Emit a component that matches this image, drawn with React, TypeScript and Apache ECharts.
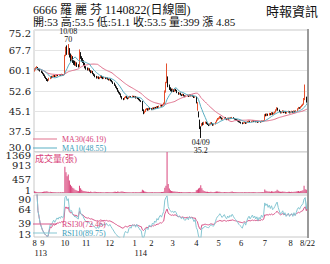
import React, { useEffect, useRef } from 'react';
import * as echarts from 'echarts';

const TITLE = '6666 羅 麗 芬 1140822(日線圖)';
const SUBTITLE = '開:53 高:53.5 低:51.1 收:53.5 量:399 漲 4.85';
const SOURCE = '時報資訊';
const VOLUME_NAME = '成交量(張)';
const MA30_TEXT = '46.19';
const MA10_TEXT = '48.55';
const RSI30_TEXT = '72.46';
const RSI10_TEXT = '89.75';
const HI_DATE = '10/08';
const LO_DATE = '04/09';
const MONTH_LABELS = ['8', '9', '10', '11', '12', '1', '2', '3', '4', '5', '6', '7', '8'];
const YEAR_MONTHS = [0, 5];
const YEAR_LABELS = ['113', '114'];
const LAST_LABEL = '8/22';
const PRICE_RANGE = [30, 75.2];
const PRICE_SPLITS = 6;
const VOL_RANGE = [1, 1369];
const VOL_SPLITS = 3;
const RSI_RANGE = [13, 90];
const RSI_SPLITS = 3;

// [open, close, low, high]
const bars2408 = [
  [60.0, 60.5, 59.8, 61.0], [60.5, 61.0, 60.3, 61.4], [61.0, 61.3, 60.8, 61.8], [61.3, 60.8, 60.5, 61.5],
  [60.8, 60.5, 60.2, 61.0], [60.5, 60.0, 59.8, 60.8], [60.0, 59.6, 59.3, 60.2],
];
const bars2409 = [
  [59.6, 59.0, 58.8, 59.8], [59.0, 58.5, 58.2, 59.2], [58.5, 57.8, 57.5, 58.7], [57.8, 57.2, 57.0, 58.0],
  [57.2, 56.6, 56.3, 57.4], [56.6, 56.5, 56.1, 57.0], [56.5, 57.2, 56.4, 57.5], [57.2, 57.9, 57.0, 58.1],
  [57.9, 57.6, 57.3, 58.2], [57.6, 58.0, 57.4, 58.3], [58.0, 58.3, 57.8, 58.6], [58.3, 57.9, 57.7, 58.5],
  [57.9, 58.2, 57.8, 58.4], [58.2, 58.5, 58.0, 58.8], [58.5, 58.3, 58.1, 58.7], [58.3, 58.6, 58.2, 58.9],
  [58.6, 58.4, 58.2, 58.8], [58.4, 58.7, 58.3, 59.0], [58.7, 58.5, 58.3, 58.9], [58.5, 58.6, 58.3, 58.8],
];
const bars2410 = [
  [58.6, 65.5, 58.5, 66.0], [66.5, 67.5, 65.5, 69.0], [68.0, 66.5, 66.0, 69.5], [67.0, 68.5, 66.0, 70.0],
  [68.0, 65.5, 65.0, 68.5], [65.5, 64.5, 63.5, 66.5], [64.5, 65.0, 63.8, 66.0], [65.0, 63.5, 63.0, 65.5],
  [63.5, 63.0, 62.3, 64.0], [63.0, 62.5, 62.0, 63.8], [62.5, 62.8, 61.8, 63.5], [62.8, 62.0, 61.5, 63.2],
  [62.0, 61.8, 61.3, 62.5], [61.8, 67.0, 61.5, 68.0], [66.5, 65.0, 64.5, 67.0], [65.0, 64.0, 63.5, 65.5],
  [64.0, 63.8, 63.0, 64.8], [63.5, 62.5, 62.0, 64.0], [62.5, 61.5, 61.0, 63.0],
];
const bars2411 = [
  [61.5, 61.0, 60.5, 61.8], [61.0, 60.5, 60.2, 61.3], [60.5, 60.8, 60.2, 61.2], [60.8, 60.0, 59.8, 61.0],
  [60.0, 59.5, 59.2, 60.3], [59.5, 59.8, 59.3, 60.2], [59.8, 59.0, 58.8, 60.0], [59.0, 58.5, 58.2, 59.2],
  [58.5, 58.0, 57.7, 58.8], [58.0, 57.5, 57.2, 58.2], [57.5, 57.8, 57.3, 58.0], [57.8, 57.2, 57.0, 58.0],
  [57.2, 57.6, 57.0, 57.8], [57.6, 58.2, 57.4, 58.5], [58.2, 57.5, 57.3, 58.3], [57.5, 57.3, 57.0, 57.8],
  [57.3, 57.6, 57.1, 57.9], [57.6, 57.2, 57.0, 57.8], [57.2, 57.5, 57.0, 57.7], [57.5, 57.0, 56.8, 57.6],
  [57.0, 56.8, 56.5, 57.2],
];
const bars2412 = [
  [56.8, 57.0, 56.5, 57.3], [57.0, 56.5, 56.2, 57.1], [56.5, 56.0, 55.8, 56.7], [56.0, 55.5, 55.2, 56.2],
  [55.5, 54.8, 54.5, 55.7], [54.8, 54.0, 53.8, 55.0], [54.0, 53.5, 53.2, 54.3], [53.5, 52.5, 52.3, 53.7],
  [52.5, 52.0, 51.7, 52.8], [52.0, 51.5, 51.2, 52.2], [51.5, 50.5, 50.2, 51.7], [50.5, 49.8, 49.5, 50.7],
  [49.8, 49.5, 49.2, 50.0], [49.5, 50.2, 49.4, 50.4], [50.2, 50.5, 50.0, 50.8], [50.5, 50.0, 49.8, 50.7],
  [50.0, 49.8, 49.5, 50.2], [49.8, 50.3, 49.7, 50.5], [50.3, 50.5, 50.1, 50.8], [50.5, 50.2, 50.0, 50.7],
  [50.2, 50.6, 50.1, 50.9], [50.6, 50.4, 50.2, 50.8],
];
const bars2501 = [
  [50.4, 50.5, 50.1, 50.8], [50.5, 50.0, 49.8, 50.7], [50.0, 50.3, 49.9, 50.5], [50.3, 49.8, 49.6, 50.4],
  [49.8, 49.5, 49.2, 50.0], [49.5, 49.0, 48.8, 49.7], [49.0, 48.8, 48.5, 49.2], [48.8, 45.5, 45.2, 48.9],
  [45.5, 44.5, 44.0, 45.8], [44.5, 45.0, 44.3, 45.3], [45.0, 45.8, 44.8, 46.0], [45.8, 46.0, 45.5, 46.3],
  [46.0, 45.5, 45.3, 46.2], [45.5, 46.2, 45.4, 46.4], [46.2, 46.0, 45.7, 46.5],
];
const bars2502 = [
  [46.0, 45.8, 45.5, 46.3], [45.8, 46.3, 45.6, 46.5], [46.3, 46.0, 45.8, 46.5], [46.0, 46.5, 45.9, 46.7],
  [46.5, 46.2, 46.0, 46.7], [46.2, 46.8, 46.1, 47.0], [46.8, 46.5, 46.3, 47.0], [46.5, 47.0, 46.4, 47.2],
  [47.0, 47.3, 46.8, 47.5], [47.3, 47.0, 46.8, 47.5], [47.0, 47.5, 46.9, 47.8], [47.5, 48.0, 47.3, 48.3],
  [48.0, 52.5, 47.8, 52.8], [52.5, 55.0, 52.0, 56.0], [56.5, 57.5, 55.5, 62.8], [57.0, 54.5, 54.0, 58.0],
  [54.5, 53.5, 53.0, 55.0], [53.5, 53.0, 52.5, 54.0], [53.0, 52.5, 52.2, 53.5],
];
const bars2503 = [
  [52.5, 53.0, 52.2, 53.5], [53.0, 52.5, 52.2, 53.3], [52.5, 53.2, 52.3, 53.5], [53.2, 52.8, 52.5, 53.4],
  [52.8, 52.0, 51.8, 53.0], [52.0, 51.5, 51.2, 52.2], [51.5, 51.8, 51.3, 52.0], [51.8, 51.2, 51.0, 52.0],
  [51.2, 51.0, 50.7, 51.4], [51.0, 51.4, 50.8, 51.6], [51.4, 50.8, 50.6, 51.5], [50.8, 50.5, 50.3, 51.0],
  [50.5, 50.8, 50.3, 51.0], [50.8, 51.0, 50.6, 51.3], [51.0, 50.6, 50.4, 51.2], [50.6, 51.2, 50.5, 51.4],
  [51.2, 50.8, 50.6, 51.3], [50.8, 51.0, 50.6, 51.2], [51.0, 50.7, 50.5, 51.2], [50.7, 50.2, 50.0, 50.8],
  [50.2, 50.5, 50.0, 50.7],
];
const bars2504 = [
  [50.3, 48.5, 48.0, 50.5], [46.0, 47.5, 45.3, 48.5], [44.5, 43.0, 42.8, 45.0], [41.0, 38.7, 38.5, 42.0],
  [39.0, 37.0, 35.2, 39.5], [40.0, 40.7, 39.5, 40.7], [40.5, 40.2, 39.8, 41.0], [40.2, 40.8, 40.0, 41.2],
  [40.8, 41.0, 40.5, 41.3], [41.0, 40.5, 40.3, 41.2], [40.5, 40.2, 40.0, 40.8], [40.2, 40.0, 39.6, 40.4],
  [40.0, 40.4, 39.8, 40.6], [40.4, 40.8, 40.2, 41.0], [40.8, 40.5, 40.3, 41.0], [40.5, 40.0, 39.7, 40.7],
  [40.0, 40.3, 39.8, 40.5], [40.3, 41.0, 40.2, 41.2], [41.0, 41.8, 40.9, 42.0], [41.8, 42.3, 41.6, 42.6],
];
const bars2505 = [
  [42.3, 42.5, 42.0, 42.8], [42.5, 43.0, 42.3, 43.3], [43.0, 42.6, 42.4, 43.2], [42.6, 42.2, 42.0, 42.8],
  [42.2, 42.5, 42.0, 42.7], [42.5, 42.8, 42.3, 43.0], [42.8, 42.3, 42.1, 42.9], [42.3, 42.0, 41.8, 42.5],
  [42.0, 42.5, 41.9, 42.7], [42.5, 42.2, 42.0, 42.7], [42.2, 42.6, 42.1, 42.8], [42.6, 42.4, 42.2, 42.8],
  [42.4, 42.8, 42.3, 43.0], [42.8, 42.5, 42.3, 42.9], [42.5, 42.2, 42.0, 42.6], [42.2, 42.0, 41.8, 42.3],
  [42.0, 41.8, 41.6, 42.2], [41.8, 41.5, 41.3, 42.0], [41.5, 41.2, 41.0, 41.7], [41.2, 41.0, 40.8, 41.4],
];
const bars2506 = [
  [41.0, 40.8, 40.5, 41.2], [40.8, 40.5, 40.3, 41.0], [40.5, 40.8, 40.4, 41.0], [40.8, 41.0, 40.6, 41.2],
  [41.0, 40.6, 40.4, 41.1], [40.6, 41.0, 40.5, 41.2], [41.0, 41.3, 40.9, 41.5], [41.3, 41.5, 41.1, 41.7],
  [41.5, 41.2, 41.0, 41.6], [41.2, 41.4, 41.0, 41.6], [41.4, 41.6, 41.2, 41.8], [41.6, 41.3, 41.1, 41.7],
  [41.3, 41.5, 41.2, 41.7], [41.5, 41.2, 41.0, 41.6], [41.2, 41.4, 41.0, 41.6], [41.4, 41.0, 40.8, 41.5],
  [41.0, 41.3, 40.9, 41.5], [41.3, 41.1, 40.9, 41.4], [41.1, 41.5, 41.0, 41.7], [41.5, 41.3, 41.1, 41.6],
  [41.3, 41.6, 41.2, 41.8],
];
const bars2507 = [
  [41.6, 43.8, 41.5, 44.0], [43.8, 43.5, 43.2, 44.2], [43.5, 44.0, 43.3, 44.3], [44.0, 43.6, 43.4, 44.2],
  [43.6, 44.2, 43.5, 44.5], [44.2, 43.8, 43.6, 44.4], [43.8, 44.5, 43.7, 44.8], [44.5, 44.0, 43.8, 44.7],
  [44.0, 44.3, 43.9, 44.6], [44.3, 44.8, 44.2, 45.0], [44.8, 45.5, 44.6, 45.8], [45.5, 46.2, 45.3, 46.6],
  [46.2, 45.5, 45.3, 46.4], [45.5, 45.0, 44.8, 45.7], [45.0, 44.5, 44.3, 45.2], [44.5, 44.8, 44.3, 45.0],
  [44.8, 45.2, 44.6, 45.5], [45.2, 44.6, 44.4, 45.3], [44.6, 45.0, 44.5, 45.2], [45.0, 44.4, 44.2, 45.1],
  [44.4, 44.7, 44.2, 44.9], [44.7, 45.0, 44.5, 45.3], [45.0, 44.5, 44.3, 45.2],
];
const bars2508 = [
  [44.5, 44.8, 44.3, 45.0], [44.8, 45.0, 44.6, 45.3], [45.0, 44.6, 44.4, 45.2], [44.6, 45.2, 44.5, 45.4],
  [45.2, 44.8, 44.6, 45.3], [44.8, 45.3, 44.7, 45.5], [45.3, 46.0, 45.2, 46.2], [46.0, 46.4, 45.8, 46.7],
  [46.4, 46.2, 46.0, 46.6], [46.2, 46.8, 46.1, 47.0], [46.8, 47.2, 46.6, 47.5], [47.2, 47.6, 47.0, 47.9],
  [47.6, 49.5, 47.5, 50.0], [49.5, 50.5, 49.2, 55.0], [50.3, 48.65, 48.3, 50.5], [53.0, 53.5, 51.1, 53.5],
];

const vol2408 = [60, 45, 38, 30, 28, 25, 30];
const vol2409 = [35, 40, 55, 48, 62, 40, 30, 45, 38, 28, 25, 30, 22, 20, 25, 18, 22, 20, 25, 22];
const vol2410 = [874, 690, 560, 620, 420, 280, 230, 180, 150, 110, 90, 80, 70, 240, 160, 110, 80, 70, 60];
const vol2411 = [55, 45, 40, 38, 50, 35, 30, 40, 45, 35, 28, 30, 25, 38, 30, 22, 20, 25, 22, 28, 30];
const vol2412 = [25, 30, 28, 35, 40, 45, 38, 50, 42, 35, 48, 55, 40, 35, 30, 25, 22, 28, 25, 20, 22, 25];
const vol2501 = [20, 25, 22, 28, 30, 35, 40, 110, 85, 55, 45, 35, 30, 28, 25];
const vol2502 = [25, 22, 20, 25, 22, 28, 25, 30, 28, 32, 35, 40, 180, 240, 1369, 300, 150, 90, 70];
const vol2503 = [60, 50, 55, 45, 40, 38, 35, 30, 32, 28, 30, 25, 28, 30, 25, 22, 25, 20, 22, 28, 30];
const vol2504 = [90, 110, 150, 180, 260, 160, 90, 70, 55, 45, 40, 35, 38, 42, 35, 30, 32, 45, 55, 50];
const vol2505 = [40, 45, 35, 30, 28, 32, 30, 25, 28, 30, 35, 40, 55, 35, 30, 25, 28, 30, 25, 22];
const vol2506 = [22, 25, 20, 22, 25, 28, 30, 35, 25, 22, 28, 30, 25, 22, 20, 25, 22, 28, 30, 25, 28];
const vol2507 = [120, 80, 60, 50, 55, 45, 60, 50, 45, 55, 70, 110, 75, 55, 45, 40, 50, 45, 40, 35, 38, 42, 40];
const vol2508 = [35, 40, 38, 45, 40, 48, 60, 65, 50, 70, 80, 95, 240, 130, 110, 399];

const monthBars = [bars2408, bars2409, bars2410, bars2411, bars2412, bars2501, bars2502, bars2503, bars2504, bars2505, bars2506, bars2507, bars2508];
const monthVols = [vol2408, vol2409, vol2410, vol2411, vol2412, vol2501, vol2502, vol2503, vol2504, vol2505, vol2506, vol2507, vol2508];

const UP = '#e4502e';
const DOWN = '#111111';
const PINK = '#d8437a';
const TEAL = '#3c9db8';
const SERIF = "'Liberation Serif', 'Noto Sans CJK TC', serif";
const NUMFONT = "'DejaVu Serif', serif";

function movingAverage(values: number[], n: number) {
  return values.map((_, i) => {
    const from = Math.max(0, i - n + 1);
    let s = 0;
    for (let k = from; k <= i; k++) s += values[k];
    return +(s / (i - from + 1)).toFixed(2);
  });
}

function rsi(values: number[], n: number) {
  const out: (number | null)[] = [null];
  let ag = 0;
  let al = 0;
  for (let i = 1; i < values.length; i++) {
    const d = values[i] - values[i - 1];
    const k = Math.min(i, n);
    ag = (ag * (k - 1) + Math.max(d, 0)) / k;
    al = (al * (k - 1) + Math.max(-d, 0)) / k;
    out.push(ag + al === 0 ? 50 : +((100 * ag) / (ag + al)).toFixed(2));
  }
  return out;
}

function buildOption() {
  const ohlc = monthBars.flat();
  const vols = monthVols.flat();
  const closes = ohlc.map((b) => b[1]);
  const n = ohlc.length;
  const cats = ohlc.map((_, i) => String(i));
  const monthStart: number[] = [];
  let acc = 0;
  monthBars.forEach((m) => {
    monthStart.push(acc);
    acc += m.length;
  });
  const labelAt = new Map<number, string>();
  monthStart.forEach((s, k) => labelAt.set(s, MONTH_LABELS[k]));
  labelAt.set(n - 1, LAST_LABEL);
  const yearAt = new Map<number, string>();
  YEAR_MONTHS.forEach((mk, k) => yearAt.set(monthStart[mk], YEAR_LABELS[k]));

  let hiIdx = 0;
  let loIdx = 0;
  ohlc.forEach((b, i) => {
    if (b[3] > ohlc[hiIdx][3]) hiIdx = i;
    if (b[2] < ohlc[loIdx][2]) loIdx = i;
  });
  const hiVal = ohlc[hiIdx][3];
  const loVal = ohlc[loIdx][2];

  const ma30 = movingAverage(closes, 30);
  const ma10 = movingAverage(closes, 10);
  const rsi30 = rsi(closes, 30);
  const rsi10 = rsi(closes, 10);

  const gridCommon = { left: 34, width: 274, show: true, borderColor: '#c8c8c8', borderWidth: 1, backgroundColor: '#fff' };
  const hiddenX = (gi: number) => ({
    type: 'category', gridIndex: gi, data: cats, boundaryGap: true,
    axisLine: { show: false }, axisTick: { show: false }, axisLabel: { show: false }, splitLine: { show: false },
  });
  const numStyle = { fontSize: 10, lineHeight: 6, fontFamily: NUMFONT, color: '#222' };
  const yLabel = (fmt: (v: number) => string, range: number[], padTop: number, padBottom: number) => ({
    show: true, ...numStyle, margin: 3,
    formatter: (v: number) => {
      const t = fmt(v);
      if (Math.abs(v - range[1]) < 1e-6 && padTop) return `{hi|${t}}`;
      if (Math.abs(v - range[0]) < 1e-6 && padBottom) return `{lo|${t}}`;
      return t;
    },
    rich: {
      hi: { ...numStyle, padding: [padTop, 0, 0, 0] },
      lo: { ...numStyle, padding: [0, 0, padBottom, 0] },
    },
    showMinLabel: true, showMaxLabel: true, hideOverlap: false,
    verticalAlignMaxLabel: 'top', verticalAlignMinLabel: 'bottom',
  });
  const legendText = { fontSize: 8, lineHeight: 8, fontFamily: SERIF };
  const lineLegend = (name: string, text: string, top: number, color: string) => ({
    data: [name], left: 33, top, orient: 'vertical', itemWidth: 24, itemHeight: 1, icon: 'rect',
    selectedMode: false, padding: 0, formatter: () => `${name}(${text})`,
    textStyle: { ...legendText, color },
  });

  return {
    animation: false,
    backgroundColor: '#ffffff',
    legend: [
      lineLegend('MA30', MA30_TEXT, 135, PINK),
      lineLegend('MA10', MA10_TEXT, 144, TEAL),
      {
        data: [VOLUME_NAME], left: 30, top: 154, itemWidth: 0, itemHeight: 0, selectedMode: false, padding: 0,
        textStyle: { fontSize: 9, fontFamily: SERIF, color: PINK },
      },
      lineLegend('RSI30', RSI30_TEXT, 220, PINK),
      lineLegend('RSI10', RSI10_TEXT, 229, TEAL),
    ],
    grid: [
      { ...gridCommon, top: 30, height: 122 },
      { ...gridCommon, top: 152, height: 41 },
      { ...gridCommon, top: 195, height: 42 },
    ],
    xAxis: [
      hiddenX(0),
      hiddenX(1),
      {
        type: 'category', gridIndex: 2, data: cats, boundaryGap: true,
        axisLine: { show: false }, axisTick: { show: false }, splitLine: { show: false },
        axisLabel: {
          show: true, interval: (i: number) => labelAt.has(i), formatter: (_v: string, i: number) => labelAt.get(i) ?? '',
          fontSize: 8.5, fontFamily: SERIF, color: '#111', margin: 2, hideOverlap: false,
        },
      },
      {
        type: 'category', gridIndex: 2, data: cats, boundaryGap: true, position: 'bottom', offset: 10,
        axisLine: { show: false }, axisTick: { show: false }, splitLine: { show: false },
        axisLabel: {
          show: true, interval: (i: number) => yearAt.has(i), formatter: (_v: string, i: number) => yearAt.get(i) ?? '',
          fontSize: 8.5, fontFamily: SERIF, color: '#111', margin: 2, align: 'left', hideOverlap: false,
        },
      },
    ],
    yAxis: [
      {
        type: 'value', gridIndex: 0, min: PRICE_RANGE[0], max: PRICE_RANGE[1],
        interval: (PRICE_RANGE[1] - PRICE_RANGE[0]) / PRICE_SPLITS,
        axisLine: { show: false }, axisTick: { show: false },
        splitLine: { show: true, lineStyle: { color: '#e4e4e4', width: 1 } },
        axisLabel: yLabel((v: number) => v.toFixed(1), PRICE_RANGE, 0, 4),
      },
      {
        type: 'value', gridIndex: 1, min: VOL_RANGE[0], max: VOL_RANGE[1],
        interval: (VOL_RANGE[1] - VOL_RANGE[0]) / VOL_SPLITS,
        axisLine: { show: false }, axisTick: { show: false }, splitLine: { show: false },
        axisLabel: yLabel((v: number) => String(Math.round(v)), VOL_RANGE, 0, 0),
      },
      {
        type: 'value', gridIndex: 2, min: RSI_RANGE[0], max: RSI_RANGE[1],
        interval: (RSI_RANGE[1] - RSI_RANGE[0]) / RSI_SPLITS,
        axisLine: { show: false }, axisTick: { show: false }, splitLine: { show: false },
        axisLabel: yLabel((v: number) => String(Math.round(v)), RSI_RANGE, 2, 0),
      },
    ],
    series: [
      {
        type: 'candlestick', name: 'K', xAxisIndex: 0, yAxisIndex: 0, data: ohlc, barWidth: 1,
        itemStyle: { color: UP, color0: DOWN, borderColor: UP, borderColor0: DOWN, borderWidth: 1 },
        markPoint: {
          symbol: 'circle', symbolSize: 0, silent: true,
          itemStyle: { color: 'transparent' },
          label: { show: true, color: '#111', fontSize: 8, fontFamily: SERIF, lineHeight: 8 },
          data: [
            { coord: [hiIdx, hiVal], value: hiVal, label: { position: 'top', distance: 1, formatter: `${HI_DATE}\n${hiVal}` } },
            { coord: [loIdx, loVal], value: loVal, label: { position: 'bottom', distance: 1, formatter: `${LO_DATE}\n${loVal}` } },
          ],
        },
      },
      {
        type: 'line', name: 'MA30', xAxisIndex: 0, yAxisIndex: 0, data: ma30, showSymbol: false, symbol: 'none',
        lineStyle: { width: 1, color: '#e0718d' }, itemStyle: { color: '#e0718d' },
      },
      {
        type: 'line', name: 'MA10', xAxisIndex: 0, yAxisIndex: 0, data: ma10, showSymbol: false, symbol: 'none',
        lineStyle: { width: 1, color: '#58aec2' }, itemStyle: { color: '#58aec2' },
      },
      {
        type: 'bar', name: VOLUME_NAME, xAxisIndex: 1, yAxisIndex: 1, data: vols, barWidth: 1,
        itemStyle: { color: '#d9467c' },
      },
      {
        type: 'line', name: 'RSI30', xAxisIndex: 2, yAxisIndex: 2, data: rsi30, showSymbol: false, symbol: 'none',
        lineStyle: { width: 1, color: '#d8578a' }, itemStyle: { color: '#d8578a' },
      },
      {
        type: 'line', name: 'RSI10', xAxisIndex: 2, yAxisIndex: 2, data: rsi10, showSymbol: false, symbol: 'none',
        lineStyle: { width: 1, color: '#86c6d2' }, itemStyle: { color: '#86c6d2' },
      },
    ],
    graphic: [
      {
        type: 'text', left: 33, top: 4, silent: true,
        style: { text: TITLE, fill: '#111', font: `12px ${SERIF}` },
      },
      {
        type: 'text', left: 33, top: 16, silent: true,
        style: { text: SUBTITLE, fill: '#111', font: `11px ${SERIF}` },
      },
      {
        type: 'text', right: 12, top: 5, silent: true,
        style: { text: SOURCE, fill: '#111', font: `13px ${SERIF}` },
      },
      {
        type: 'line', silent: true, z: 100,
        shape: { x1: 308, y1: 29, x2: 308, y2: 238 },
        style: { stroke: '#9a9a9a', lineWidth: 2 },
      },
    ],
  };
}

export default function App() {
  const ref = useRef<HTMLDivElement>(null);
  useEffect(() => {
    if (!ref.current) return;
    const chart = echarts.init(ref.current, null, { renderer: 'svg' });
    chart.setOption(buildOption() as any);
    return () => chart.dispose();
  }, []);
  return (
    <div
      ref={ref}
      style={{ position: 'fixed', left: 0, top: 0, width: 330, height: 264, background: '#fff' }}
    />
  );
}
